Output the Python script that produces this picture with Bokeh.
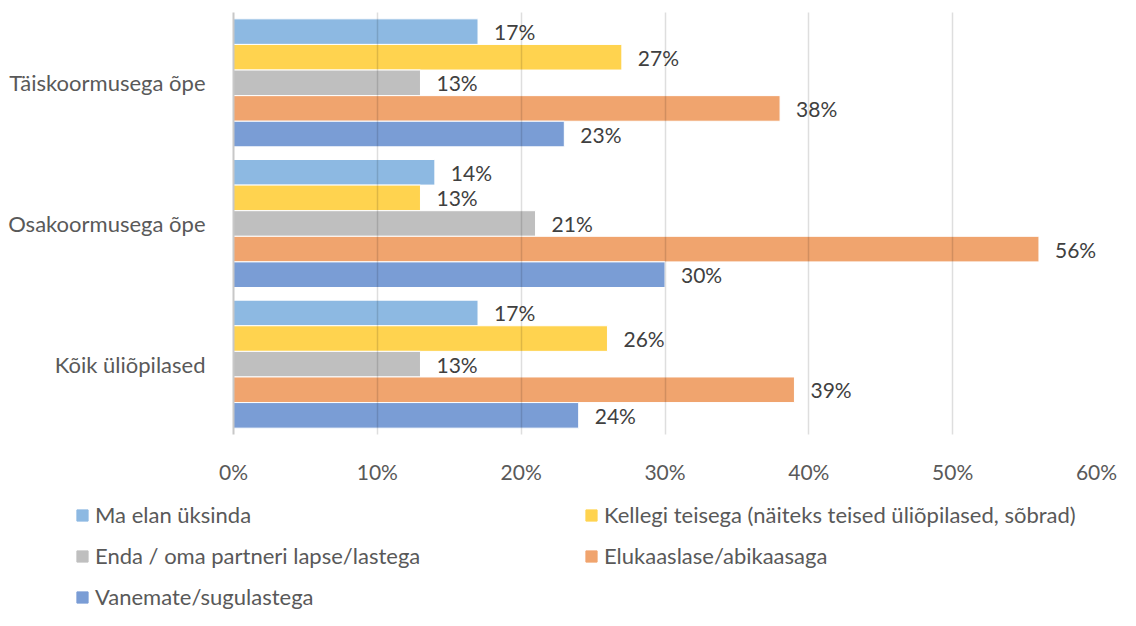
from bokeh.plotting import figure
from bokeh.models import (ColumnDataSource, FactorRange, Range1d, Legend, LegendItem,
                          FixedTicker, PrintfTickFormatter)
from bokeh.transform import dodge
from bokeh.core.properties import value
from bokeh.embed import file_html
from bokeh.resources import INLINE

groups = ["Täiskoormusega õpe", "Osakoormusega õpe", "Kõik üliõpilased"]
series = ["Ma elan üksinda",
          "Kellegi teisega (näiteks teised üliõpilased, sõbrad)",
          "Enda / oma partneri lapse/lastega",
          "Elukaaslase/abikaasaga",
          "Vanemate/sugulastega"]
ma_elan_uksinda = [17, 14, 17]
kellegi_teisega = [27, 13, 26]
enda_lastega = [13, 21, 13]
elukaaslasega = [38, 56, 39]
vanematega = [23, 30, 24]
x_ticks = [0, 10, 20, 30, 40, 50, 60]

values_list = [ma_elan_uksinda, kellegi_teisega, enda_lastega, elukaaslasega, vanematega]
colors = ["#8DB9E2", "#FFD34F", "#BFBFBF", "#F0A46E", "#7A9DD5"]

FONT = "Lato"
TXT = "#595959"
W = 1120

p = figure(width=W, height=486, output_backend="svg", toolbar_location=None,
           y_range=FactorRange(factors=list(reversed(groups)), range_padding=0),
           x_range=Range1d(0, 60),
           min_border_left=233, min_border_right=24, min_border_top=12, min_border_bottom=46)
p.outline_line_color = None

# legend panel below the chart (own figure so the legend may start left of the chart frame)
pl = figure(width=W, height=124, output_backend="svg", toolbar_location=None,
            x_axis_type=None, y_axis_type=None, x_range=Range1d(-1, 0), y_range=p.y_range,
            min_border_left=0, min_border_right=0, min_border_top=0, min_border_bottom=0)
pl.outline_line_color = None
pl.xgrid.visible = False
pl.ygrid.visible = False

bar_h = 0.182
offsets = [2 * bar_h, bar_h, 0.0, -bar_h, -2 * bar_h]
items = []
for name, vals, col, off in zip(series, values_list, colors, offsets):
    src = ColumnDataSource(dict(g=groups, v=vals, lab=[f"{v}%" for v in vals]))
    p.hbar(y=dodge("g", off, range=p.y_range), right="v", left=0, height=bar_h,
           source=src, fill_color=col, line_color="white", line_width=1)
    p.text(x="v", y=dodge("g", off, range=p.y_range), text="lab", source=src,
           x_offset=16, text_baseline="middle", text_align="left",
           text_font=value(FONT), text_font_size="21px", text_color="#404040")
    # same series in the legend panel (outside its visible x range), used only for the key
    r = pl.hbar(y=dodge("g", off, range=p.y_range), right="v", left=0, height=bar_h,
                source=src, fill_color=col, line_color=col, line_width=1)
    items.append(LegendItem(label=name, renderers=[r]))

p.xaxis.ticker = FixedTicker(ticks=x_ticks)
p.xaxis.formatter = PrintfTickFormatter(format="%d%%")
p.xaxis.axis_line_color = None
p.xaxis.major_tick_line_color = None
p.xaxis.minor_tick_line_color = None
p.xaxis.major_label_standoff = 18
p.xaxis.major_label_text_font = FONT
p.xaxis.major_label_text_font_size = "21px"
p.xaxis.major_label_text_color = TXT

p.yaxis.axis_line_color = "#C8C8C8"
p.yaxis.axis_line_width = 2
p.yaxis.major_tick_line_color = None
p.yaxis.minor_tick_line_color = None
p.yaxis.major_label_standoff = 22
p.yaxis.major_label_text_font = FONT
p.yaxis.major_label_text_font_size = "22px"
p.yaxis.major_label_text_color = TXT

p.ygrid.grid_line_color = None
p.xgrid.grid_line_color = "#000000"
p.xgrid.grid_line_alpha = 0.13
p.xgrid.grid_line_width = 1.5
p.xgrid.level = "guide"

legend = Legend(items=items, ncols=2, orientation="horizontal", location=(75, 0),
                label_text_font=FONT, label_text_font_size="22px", label_text_color=TXT,
                glyph_width=14, glyph_height=14, label_standoff=6,
                label_width=475, spacing=14, padding=0, margin=0,
                border_line_color=None, background_fill_alpha=0)
pl.add_layout(legend, "center")

open("out.html", "w").write(file_html([p, pl], INLINE))
